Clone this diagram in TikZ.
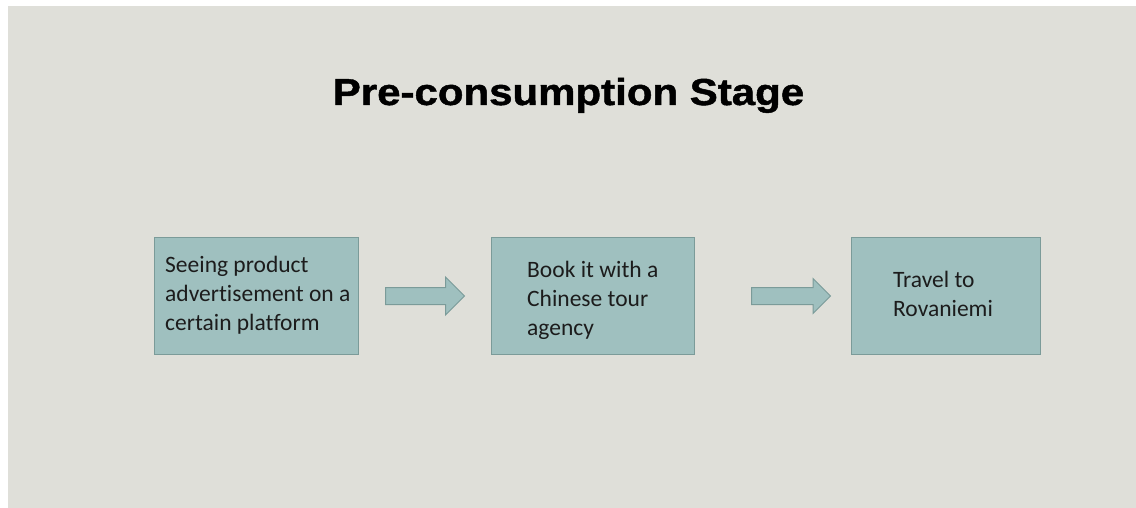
\documentclass[tikz,border=0pt]{standalone}
\usepackage{fontspec}
\setmainfont{Carlito}[Ligatures=NoCommon]
\newfontfamily\headfont{Liberation Sans}[FakeBold=1.2]
\usetikzlibrary{shapes.arrows}
\definecolor{pagebg}{HTML}{DFDFD9}
\definecolor{boxfill}{HTML}{9FC0BF}
\definecolor{boxline}{HTML}{7B9B99}
\definecolor{ink}{HTML}{1C1C1C}
\tikzset{
  stagebox/.style={draw=boxline, line width=1pt, fill=boxfill, rectangle,
    inner sep=0pt, anchor=north west},
  % anchored at the baseline of the last line
  boxtext/.style={anchor=base west, inner sep=0pt, align=left, text=ink,
    font=\fontsize{23.5}{29}\selectfont},
  flowarrow/.style={single arrow, draw=boxline, line width=1pt, fill=boxfill,
    inner xsep=0pt, inner ysep=8pt, shape border rotate=0, anchor=west},
}
\begin{document}
\begin{tikzpicture}[x=1pt, y=-1pt]
  % canvas
  \useasboundingbox (0,0) rectangle (1136,508);
  \fill[pagebg] (8,6) rectangle (1136,508);

  % heading
  \node[anchor=base, inner sep=0pt, text=black] (title) at (568.5,105)
    {\scalebox{1.12}[1]{\headfont\bfseries\fontsize{37.5}{40}\selectfont Pre-consumption Stage}};

  % stage boxes
  \node[stagebox, minimum width=204pt, minimum height=117pt] (s1) at (154,237) {};
  \node[stagebox, minimum width=203pt, minimum height=117pt] (s2) at (491,237) {};
  \node[stagebox, minimum width=189pt, minimum height=117pt] (s3) at (851,237) {};

  % box labels
  \node[boxtext] (t1) at (165,330) {Seeing product\\advertisement on a\\certain platform};
  \node[boxtext] (t2) at (527,335) {Book it with a\\Chinese tour\\agency};
  \node[boxtext] (t3) at (893,316) {Travel to\\Rovaniemi};

  % block arrows between the stages
  \node[flowarrow, minimum height=79pt, minimum width=37pt,
        single arrow head extend=10.5pt] (a1) at (385,296) {};
  \node[flowarrow, minimum height=79pt, minimum width=34pt,
        single arrow head extend=9pt] (a2) at (751,296) {};
\end{tikzpicture}
\end{document}
